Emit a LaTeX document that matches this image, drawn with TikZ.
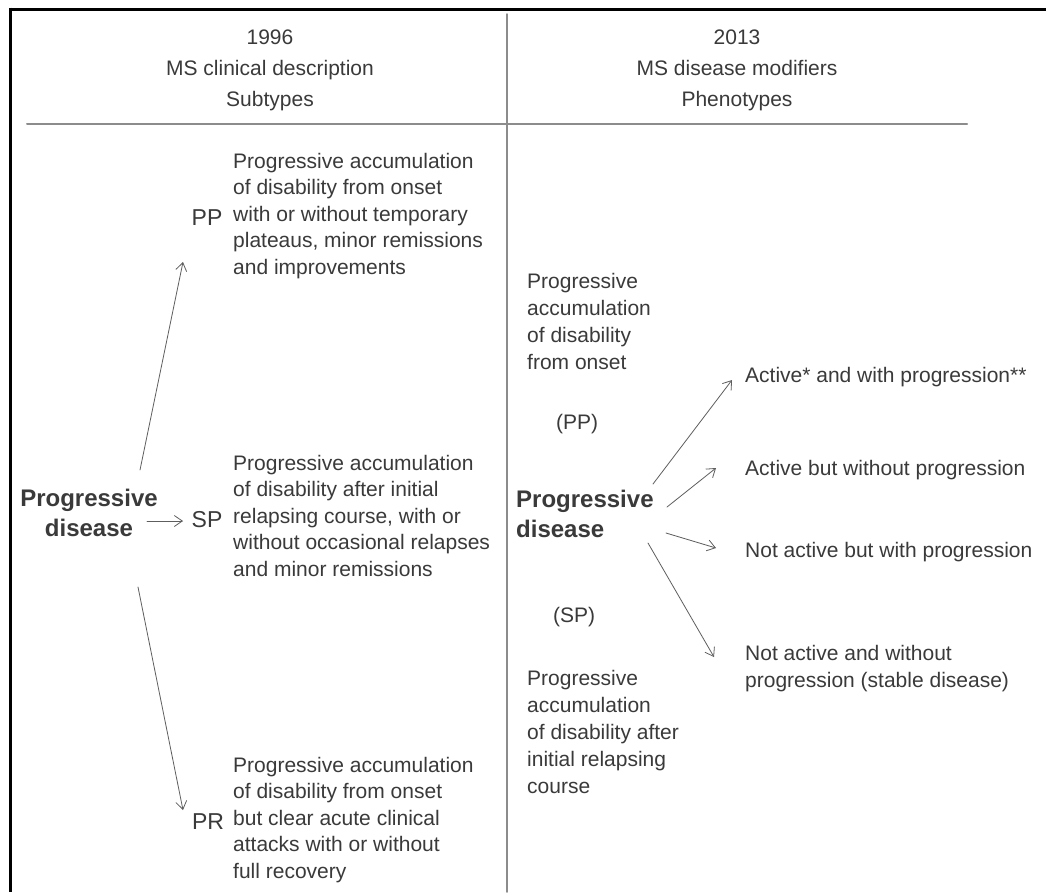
\documentclass[tikz,border=0pt]{standalone}
\usepackage{fontspec}
\setmainfont{Liberation Sans}
\usetikzlibrary{arrows.meta}
\definecolor{txtgray}{HTML}{3A3A3A}
\definecolor{rulegray}{HTML}{8C8C8C}
\definecolor{arrgray}{HTML}{5E5E5E}
\tikzset{
  body/.style={anchor=north west, inner sep=0pt, align=left, text=txtgray,
    font=\fontsize{21}{26.5}\selectfont},
  rbody/.style={body, font=\fontsize{21}{27}\selectfont},
  head/.style={anchor=north, inner sep=0pt, align=center, text=txtgray,
    font=\fontsize{21}{31}\selectfont},
  big/.style={inner sep=0pt, text=txtgray, font=\fontsize{24}{30}\selectfont\bfseries},
  tag/.style={inner sep=0pt, text=txtgray, font=\fontsize{23}{27}\selectfont},
  arr/.style={draw=arrgray, line width=0.8pt, -{Straight Barb[length=8pt,width=11pt]}}
}
\begin{document}
\begin{tikzpicture}[x=1pt, y=-1pt, line join=round, line cap=round]
  \def\W{1046} \def\H{892}
  \useasboundingbox[fill=white] (0,0) rectangle (\W,\H);
  % frame (top and left only)
  \draw[line width=3pt, line cap=butt] (9,9) -- (\W,9);
  \draw[line width=3pt, line cap=butt] (10.5,7.5) -- (10.5,\H);
  % column rules
  \draw[rulegray, line width=1.5pt] (507,14) -- (507,\H);
  \draw[rulegray, line width=2pt] (27,124) -- (967,124);
  % headers
  \node[head] (h1996) at (270,30) {1996\\MS clinical description\\Subtypes};
  \node[head] (h2013) at (737,30) {2013\\MS disease modifiers\\Phenotypes};

  % ---- 1996 ----
  \node[big, align=center] (pdl) at (89,513) {Progressive\\disease};
  \node[tag] (pp) at (207,218) {PP};
  \node[tag] (sp) at (207,520) {SP};
  \node[tag] (pr) at (208,822) {PR};
  \node[body] (pptxt) at (233,153) {Progressive accumulation\\of disability from onset\\with or without temporary\\plateaus, minor remissions\\and improvements};
  \node[body] (sptxt) at (233,455) {Progressive accumulation\\of disability after initial\\relapsing course, with or\\without occasional relapses\\and minor remissions};
  \node[body] (prtxt) at (233,757) {Progressive accumulation\\of disability from onset\\but clear acute clinical\\attacks with or without\\full recovery};
  \coordinate (l1) at (140,470); \coordinate (l1e) at (183,262);
  \coordinate (l2) at (147,521); \coordinate (l2e) at (183,521);
  \coordinate (l3) at (138,587); \coordinate (l3e) at (183,810);
  \foreach \a/\b in {l1/l1e,l2/l2e,l3/l3e}
    \draw[arr] (\a) -- (\b);

  % ---- 2013 ----
  \node[rbody] (pponset) at (527,273) {Progressive\\accumulation\\of disability\\from onset};
  \node[rbody, anchor=center] (ppr) at (577,424) {(PP)};
  \node[big, anchor=north west, align=left] (pdr) at (516,490) {Progressive\\disease};
  \node[rbody, anchor=center] (spr) at (574,617) {(SP)};
  \node[rbody] (spafter) at (527,670) {Progressive\\accumulation\\of disability after\\initial relapsing\\course};
  \node[rbody] (ph1) at (745,367) {Active* and with progression**};
  \node[rbody] (ph2) at (745,460) {Active but without progression};
  \node[rbody] (ph3) at (745,542) {Not active but with progression};
  \node[rbody] (ph4) at (745,645) {Not active and without\\progression (stable disease)};
  \coordinate (r1) at (653,484); \coordinate (r1e) at (732,380);
  \coordinate (r2) at (667,507); \coordinate (r2e) at (716,468);
  \coordinate (r3) at (666,533); \coordinate (r3e) at (716,548);
  \coordinate (r4) at (648,543); \coordinate (r4e) at (714,657);
  \foreach \a/\b in {r1/r1e,r2/r2e,r3/r3e,r4/r4e}
    \draw[arr] (\a) -- (\b);
\end{tikzpicture}
\end{document}
